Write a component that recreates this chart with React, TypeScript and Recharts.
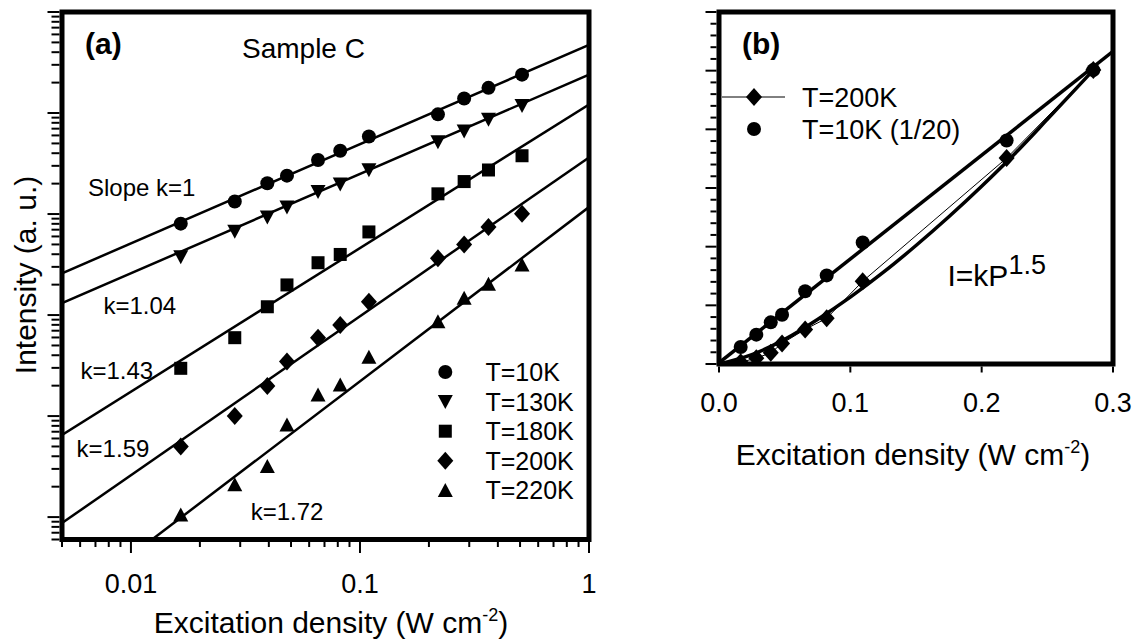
import React from 'react';
import { ScatterChart, Scatter, XAxis, YAxis, ReferenceArea } from 'recharts';

const FONT = "'Liberation Sans', Arial, sans-serif";

// excitation density (W cm^-2), shared by both panels
const excitation = [0.0165, 0.0284, 0.0394, 0.048, 0.0656, 0.082, 0.1094, 0.219, 0.285, 0.364, 0.51];

// panel (a) – intensity (a. u.), log scale
const t10K = [803, 1333, 2018, 2400, 3423, 4230, 5853, 9705, 13940, 17750, 23990];
const t130K = [378, 676, 934, 1172, 1671, 1988, 2750, 5186, 6650, 8664, 11890];
const t180K = [29.7, 59.7, 120.8, 198.7, 329.6, 398, 665, 1585, 2096, 2729, 3776];
const t200K = [5.0, 10.0, 19.9, 34.6, 59.7, 79.7, 135.5, 364, 499, 745, 1007];
const t220K = [1.05, 2.09, 3.17, 8.18, 16.2, 20.3, 38.2, 85.9, 147, 202, 313];

// straight fits in log-log, end points
const fitX = [0.005, 1];
const fit10K = [259, 47300];
const fit130K = [131, 24000];
const fit180K = [6.5, 12160];
const fit200K = [0.873, 3636];
const fit220KX = [0.01237, 1];
const fit220K = [0.6, 1172];

// panel (b) – linear scale
const bExcitation = excitation.slice(0, 9);
const b200K = [0.03, 0.1, 0.19, 0.35, 0.59, 0.78, 1.41, 3.51, 5.01];
const b10K = [0.29, 0.5, 0.71, 0.84, 1.24, 1.51, 2.07, 3.81, 5.01];
const bLineX = [0, 0.3];
const bLine10K = [0.02, 5.33];
const bCurveX = [0, 0.025, 0.05, 0.075, 0.1, 0.125, 0.15, 0.175, 0.2, 0.225, 0.25, 0.285];
const bCurve200K = [0, 0.16, 0.42, 0.76, 1.14, 1.56, 2.02, 2.51, 3.03, 3.58, 4.17, 5.01];

const xTicksB = [0, 0.1, 0.2, 0.3];
const yTicksB = [0, 0.2, 0.4, 0.6, 0.8, 1, 1.2, 1.4, 1.6, 1.8, 2, 2.2, 2.4, 2.6, 2.8, 3, 3.2, 3.4, 3.6, 3.8, 4, 4.2, 4.4, 4.6, 4.8, 5, 5.2, 5.4, 5.6, 5.8, 6];

const logTicks = (lo: number, hi: number) => {
  const out: number[] = [];
  for (let e = -4; e <= 6; e++) {
    for (let m = 1; m <= 9; m++) {
      const v = Number((m * Math.pow(10, e)).toPrecision(6));
      if (v >= lo * 0.9999 && v <= hi * 1.0001) out.push(v);
    }
  }
  return out;
};
const xTicksA = logTicks(0.005, 1);
const yTicksA = logTicks(0.6, 100000);

const pts = (xs: number[], ys: number[]) => ys.map((y, i) => ({ x: xs[i], y }));

const isDecade = (v: number) => Math.abs(Math.log10(v) - Math.round(Math.log10(v))) < 1e-6;

// marker shapes
const Dot = ({ cx, cy }: any) => <circle cx={cx} cy={cy} r={7} fill="#000" />;
const TriDown = ({ cx, cy }: any) => (
  <polygon points={`${cx - 7.5},${cy - 6.5} ${cx + 7.5},${cy - 6.5} ${cx},${cy + 7.5}`} fill="#000" />
);
const TriUp = ({ cx, cy }: any) => (
  <polygon points={`${cx - 7.5},${cy + 6.5} ${cx + 7.5},${cy + 6.5} ${cx},${cy - 7.5}`} fill="#000" />
);
const Square = ({ cx, cy }: any) => <rect x={cx - 6.5} y={cy - 6.5} width={13} height={13} fill="#000" />;
const Diamond = ({ cx, cy }: any) => (
  <polygon points={`${cx},${cy - 9} ${cx + 8},${cy} ${cx},${cy + 9} ${cx - 8},${cy}`} fill="#000" />
);
const NoMark = () => <g />;

// ticks
const XTickA = ({ x, y, payload }: any) => {
  const major = isDecade(payload.value);
  return (
    <g>
      <line x1={x} x2={x} y1={y + 2.5} y2={y + 2.5 + (major ? 11 : 5)} stroke="#000" strokeWidth={2} />
      {major && (
        <text x={x} y={y + 53.5} textAnchor="middle" fontSize={27} fontFamily={FONT} fill="#000">
          {String(payload.value)}
        </text>
      )}
    </g>
  );
};
const YTickA = ({ x, y, payload }: any) => {
  const major = isDecade(payload.value);
  return <line x1={x - 2.5} x2={x - 2.5 - (major ? 12 : 8)} y1={y} y2={y} stroke="#000" strokeWidth={2} />;
};
const XTickB = ({ x, y, payload }: any) => (
  <g>
    <line x1={x} x2={x} y1={y + 2.5} y2={y + 8.5} stroke="#000" strokeWidth={2} />
    <text x={x} y={y + 47.5} textAnchor="middle" fontSize={27} fontFamily={FONT} fill="#000">
      {payload.value.toFixed(1)}
    </text>
  </g>
);
const YTickB = ({ x, y, payload }: any) => {
  const major = Math.abs(payload.value - Math.round(payload.value)) < 1e-6;
  return <line x1={x - 2.5} x2={x - 2.5 - (major ? 11 : 6)} y1={y} y2={y} stroke="#000" strokeWidth={2} />;
};

const fitLine = { stroke: '#000', strokeWidth: 2.5 };

const legendA = [
  { label: 'T=10K', Mark: Dot },
  { label: 'T=130K', Mark: TriDown },
  { label: 'T=180K', Mark: Square },
  { label: 'T=200K', Mark: Diamond },
  { label: 'T=220K', Mark: TriUp },
];

export default function App() {
  return (
    <div style={{ position: 'absolute', left: 0, top: 0, width: 1137, height: 639, background: '#fff', overflow: 'hidden' }}>
      <div style={{ position: 'absolute', left: 0, top: 0 }}>
        <ScatterChart width={620} height={639} margin={{ top: 12, right: 31, left: 22, bottom: 39.5 }}>
          <XAxis
            type="number"
            dataKey="x"
            scale="log"
            domain={[0.005, 1]}
            allowDataOverflow
            ticks={xTicksA}
            interval={0}
            tick={<XTickA />}
            tickSize={0}
            tickMargin={0}
            axisLine={false}
            tickLine={false}
            height={60}
          />
          <YAxis
            type="number"
            dataKey="y"
            scale="log"
            domain={[0.6, 100000]}
            allowDataOverflow
            ticks={yTicksA}
            interval={0}
            tick={<YTickA />}
            tickSize={0}
            tickMargin={0}
            axisLine={false}
            tickLine={false}
            width={40}
          />
          <Scatter data={pts(fitX, fit10K)} line={fitLine} shape={NoMark} isAnimationActive={false} legendType="none" />
          <Scatter data={pts(fitX, fit130K)} line={fitLine} shape={NoMark} isAnimationActive={false} legendType="none" />
          <Scatter data={pts(fitX, fit180K)} line={fitLine} shape={NoMark} isAnimationActive={false} legendType="none" />
          <Scatter data={pts(fitX, fit200K)} line={fitLine} shape={NoMark} isAnimationActive={false} legendType="none" />
          <Scatter data={pts(fit220KX, fit220K)} line={fitLine} shape={NoMark} isAnimationActive={false} legendType="none" />
          <Scatter name="T=10K" data={pts(excitation, t10K)} shape={Dot} isAnimationActive={false} />
          <Scatter name="T=130K" data={pts(excitation, t130K)} shape={TriDown} isAnimationActive={false} />
          <Scatter name="T=180K" data={pts(excitation, t180K)} shape={Square} isAnimationActive={false} />
          <Scatter name="T=200K" data={pts(excitation, t200K)} shape={Diamond} isAnimationActive={false} />
          <Scatter name="T=220K" data={pts(excitation, t220K)} shape={TriUp} isAnimationActive={false} />
          <ReferenceArea x1={0.005} x2={1} y1={0.6} y2={100000} fill="none" stroke="#000" strokeWidth={5} ifOverflow="visible" />
        </ScatterChart>
      </div>

      <div style={{ position: 'absolute', left: 640, top: 0 }}>
        <ScatterChart width={497} height={480} margin={{ top: 12, right: 24, left: 39, bottom: 56 }}>
          <XAxis
            type="number"
            dataKey="x"
            domain={[0, 0.3]}
            allowDataOverflow
            ticks={xTicksB}
            interval={0}
            tick={<XTickB />}
            tickSize={0}
            tickMargin={0}
            axisLine={false}
            tickLine={false}
            height={60}
          />
          <YAxis
            type="number"
            dataKey="y"
            domain={[0, 6]}
            allowDataOverflow
            ticks={yTicksB}
            interval={0}
            tick={<YTickB />}
            tickSize={0}
            tickMargin={0}
            axisLine={false}
            tickLine={false}
            width={40}
          />
          <Scatter data={pts(bLineX, bLine10K)} line={{ stroke: '#000', strokeWidth: 3.5 }} shape={NoMark} isAnimationActive={false} legendType="none" />
          <Scatter
            data={pts(bCurveX, bCurve200K)}
            line={{ stroke: '#000', strokeWidth: 3.5 }}
            lineJointType="monotoneX"
            shape={NoMark}
            isAnimationActive={false}
            legendType="none"
          />
          <Scatter name="T=200K" data={pts(bExcitation, b200K)} line={{ stroke: '#000', strokeWidth: 1 }} shape={Diamond} isAnimationActive={false} />
          <Scatter name="T=10K (1/20)" data={pts(bExcitation, b10K)} shape={Dot} isAnimationActive={false} />
          <ReferenceArea x1={0} x2={0.3} y1={0} y2={6} fill="none" stroke="#000" strokeWidth={5} ifOverflow="visible" />
        </ScatterChart>
      </div>

      <svg width={1137} height={639} style={{ position: 'absolute', left: 0, top: 0, pointerEvents: 'none' }} fontFamily={FONT} fill="#000">
        {/* panel (a) annotations */}
        <text x={85} y={53.7} fontSize={30} fontWeight="bold">(a)</text>
        <text x={242} y={58} fontSize={28}>Sample C</text>
        <text x={88} y={196} fontSize={24}>Slope k=1</text>
        <text x={103.4} y={314} fontSize={24}>k=1.04</text>
        <text x={80.4} y={379} fontSize={24}>k=1.43</text>
        <text x={76.6} y={456.5} fontSize={24}>k=1.59</text>
        <text x={250.7} y={520} fontSize={24}>k=1.72</text>
        {legendA.map((item, i) => {
          const cy = 372 + i * 29.6;
          const Mark = item.Mark;
          return (
            <g key={item.label}>
              <Mark cx={445.3} cy={cy} />
              <text x={485.5} y={cy + 9} fontSize={25}>{item.label}</text>
            </g>
          );
        })}
        <text x={331} y={633} fontSize={30} textAnchor="middle">
          Excitation density (W cm<tspan dy={-12} fontSize={18}>-2</tspan><tspan dy={12}>)</tspan>
        </text>
        <text x={36} y={275} fontSize={30} textAnchor="middle" transform="rotate(-90 36 275)">Intensity (a. u.)</text>

        {/* panel (b) annotations */}
        <text x={742} y={53.7} fontSize={30} fontWeight="bold">(b)</text>
        <line x1={722} x2={785} y1={97} y2={97} stroke="#000" strokeWidth={1} />
        <Diamond cx={754} cy={97} />
        <text x={802} y={106.5} fontSize={27}>T=200K</text>
        <Dot cx={754} cy={129} />
        <text x={802} y={138.5} fontSize={27}>T=10K (1/20)</text>
        <text x={947.5} y={285.6} fontSize={30}>
          I=kP<tspan dy={-12} fontSize={27}>1.5</tspan>
        </text>
        <text x={913} y={465} fontSize={30} textAnchor="middle">
          Excitation density (W cm<tspan dy={-12} fontSize={18}>-2</tspan><tspan dy={12}>)</tspan>
        </text>
      </svg>
    </div>
  );
}
